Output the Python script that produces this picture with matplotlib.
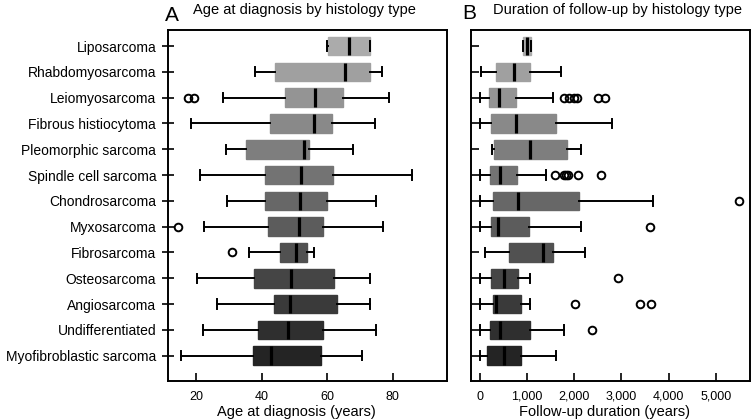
import numpy as np
import matplotlib
matplotlib.use("Agg")
import matplotlib.pyplot as plt

plt.rcParams['font.family'] = ['Liberation Sans', 'DejaVu Sans']

# --- histology types (top to bottom) ---
histologias = ["Liposarcoma", "Rhabdomyosarcoma", "Leiomyosarcoma", "Fibrous histiocytoma",
               "Pleomorphic sarcoma", "Spindle cell sarcoma", "Chondrosarcoma", "Myxosarcoma",
               "Fibrosarcoma", "Osteosarcoma", "Angiosarcoma", "Undifferentiated",
               "Myofibroblastic sarcoma"]

# --- A: age at diagnosis (years) ---
edad_wlo = [60, 38, 28.2, 18.3, 29.1, 21.0, 29.3, 22.3, 36.2, 20.1, 26.2, 22.1, 15.3]
edad_q1 = [60.1, 44.0, 47.1, 42.5, 35.0, 41.1, 41.0, 42.0, 45.5, 37.7, 43.8, 38.9, 37.2]
edad_med = [66.5, 65.5, 56.3, 55.9, 52.9, 52.0, 51.8, 51.2, 50.4, 48.9, 48.5, 47.9, 42.9]
edad_q3 = [73.1, 73.1, 64.7, 61.5, 54.5, 61.8, 59.9, 58.6, 53.7, 62.2, 62.9, 58.8, 58.1]
edad_whi = [73.1, 76.7, 78.9, 74.6, 67.8, 85.8, 74.9, 77.0, 56.0, 73.1, 73.1, 74.8, 70.7]
edad_out = [[], [], [17.4, 19.3], [], [], [], [], [14.4], [31.0], [], [], [], []]

# --- B: follow-up duration ---
seg_wlo = [909, 32, 11, 0, 265, 11, 0, 0, 117, 0, 0, 0, 11]
seg_q1 = [909, 350, 202, 251, 315, 216, 287, 237, 633, 251, 294, 223, 166]
seg_med = [1002, 732, 414, 768, 1072, 435, 817, 400, 1341, 520, 350, 435, 527]
seg_q3 = [1093, 1072, 768, 1624, 1851, 789, 2098, 1051, 1546, 803, 874, 1072, 881]
seg_whi = [1093, 1724, 1546, 2806, 2155, 1412, 3669, 2155, 2240, 1072, 1072, 1794, 1618]
seg_out = [[], [], [1780, 1894, 1991, 2064, 2509, 2665], [], [],
           [1603, 1794, 1837, 1879, 2084, 2580], [5495], [3605], [], [2934],
           [2028, 3393, 3620], [2389], []]

n = len(histologias)
pos = np.arange(n)
grises = [str(g) for g in np.linspace(0.67, 0.14, n)]


def stats(wlo, q1, med, q3, whi, out):
    return [dict(whislo=wlo[i], q1=q1[i], med=med[i], q3=q3[i], whishi=whi[i], fliers=out[i])
            for i in range(len(wlo))]


def dibujar(ax, st):
    bp = ax.bxp(st, positions=pos, vert=False, widths=0.72, patch_artist=True,
                medianprops=dict(color='black', linewidth=2.3),
                whiskerprops=dict(color='black', linewidth=1.4),
                capprops=dict(color='black', linewidth=1.4),
                flierprops=dict(marker='o', markersize=5.5, markerfacecolor='none',
                                markeredgecolor='black', markeredgewidth=1.4))
    for caja, g in zip(bp['boxes'], grises):
        caja.set_facecolor(g)
        caja.set_edgecolor(g)
    ax.set_ylim(12.98, -0.62)
    for s in ax.spines.values():
        s.set_linewidth(1.4)
    ax.tick_params(axis='x', direction='in', length=6, width=1.2, labelsize=9, pad=7)


fig = plt.figure(figsize=(7.52, 4.2), dpi=100)
axA = fig.add_axes([168 / 752, 39 / 420, 279 / 752, 351 / 420])
axB = fig.add_axes([471 / 752, 39 / 420, 279 / 752, 351 / 420])

dibujar(axA, stats(edad_wlo, edad_q1, edad_med, edad_q3, edad_whi, edad_out))
axA.set_xlim(11.3, 96.6)
axA.set_xticks([20, 40, 60, 80])
axA.set_yticks(pos)
axA.set_yticklabels(histologias, fontsize=10)
axA.tick_params(axis='y', direction='inout', length=9, width=1.2, pad=4)
axA.set_xlabel("Age at diagnosis (years)", fontsize=10.5)
axA.xaxis.set_label_coords(0.46, -0.068)

dibujar(axB, stats(seg_wlo, seg_q1, seg_med, seg_q3, seg_whi, seg_out))
axB.set_xlim(-182, 5725)
axB.set_xticks([0, 1000, 2000, 3000, 4000, 5000])
axB.set_xticklabels(["0", "1,000", "2,000", "3,000", "4,000", "5,000"])
axB.set_yticks(pos)
axB.set_yticklabels([])
axB.tick_params(axis='y', direction='in', length=6, width=1.2)
axB.set_xlabel("Follow-up duration (years)", fontsize=10.5)
axB.xaxis.set_label_coords(0.477, -0.068)

fig.text(165 / 752, 1 - 21 / 420, "A", fontsize=15)
fig.text(193 / 752, 1 - 14 / 420, "Age at diagnosis by histology type", fontsize=10.5)
fig.text(462 / 752, 1 - 19 / 420, "B", fontsize=15)
fig.text(493 / 752, 1 - 14 / 420, "Duration of follow-up by histology type", fontsize=10.5)

fig.savefig("out.png", dpi=100)
